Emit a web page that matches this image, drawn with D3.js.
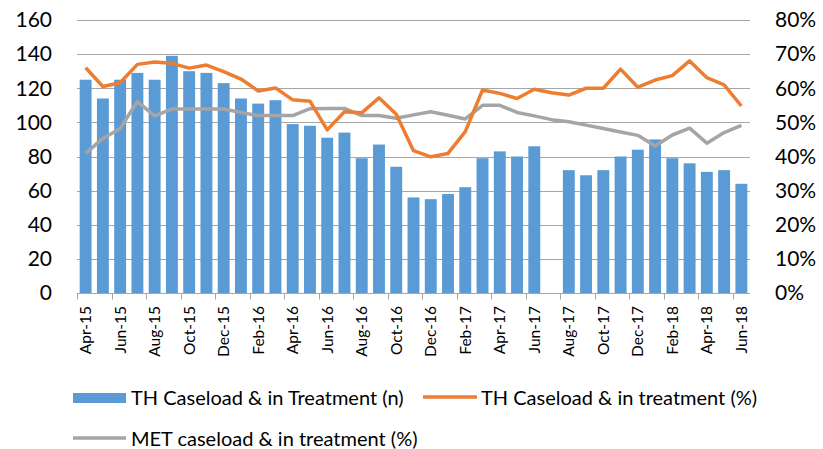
<!DOCTYPE html>
<html>
<head>
<meta charset="utf-8">
<script src="https://cdn.jsdelivr.net/npm/d3@7"></script>
<style>
  body { margin: 0; background: #fff; }
  text { font-family: Lato, "Open Sans", sans-serif; fill: #000; }
</style>
</head>
<body>
<div id="chart"></div>
<script>
// months Apr-15 .. Jun-18
var months = ["Apr-15","May-15","Jun-15","Jul-15","Aug-15","Sep-15","Oct-15","Nov-15","Dec-15",
  "Jan-16","Feb-16","Mar-16","Apr-16","May-16","Jun-16","Jul-16","Aug-16","Sep-16","Oct-16","Nov-16","Dec-16",
  "Jan-17","Feb-17","Mar-17","Apr-17","May-17","Jun-17","Jul-17","Aug-17","Sep-17","Oct-17","Nov-17","Dec-17",
  "Jan-18","Feb-18","Mar-18","Apr-18","May-18","Jun-18"];

// TH caseload & in treatment (n) - Jul-17 missing
var thCount = [125,114,125,129,125,139,130,129,123,114,111,113,99,98,91,94,79,87,74,56,55,58,62,79,83,80,86,
  null,72,69,72,80,84,90,79,76,71,72,64];

// TH caseload & in treatment (%)
var thPct = [66.0,60.5,61.6,67.0,67.7,67.3,65.9,66.8,64.9,62.7,59.2,60.1,56.6,56.2,47.8,53.1,52.8,57.2,52.4,41.7,39.9,
  40.9,47.3,59.5,58.5,57.0,59.7,58.7,58.0,60.0,60.0,65.6,60.3,62.4,63.7,68.0,63.1,61.0,54.8];

// MET caseload & in treatment (%)
var metPct = [40.9,45.3,48.2,56.1,51.9,53.9,53.9,53.9,53.9,52.9,52.0,52.0,52.0,54.0,54.1,54.1,52.0,52.0,51.2,52.2,53.1,
  52.1,51.0,55.0,55.0,52.9,51.9,50.8,50.2,49.2,48.2,47.2,46.2,43.1,46.3,48.3,43.9,47.0,49.1];

var leftTicks = [0,20,40,60,80,100,120,140,160];
var rightTicks = [0,10,20,30,40,50,60,70,80];

var svgWidth = 823, svgHeight = 449;
var margin = {top: 20, right: 73, bottom: 156, left: 77};
var width = svgWidth - margin.left - margin.right;
var height = svgHeight - margin.top - margin.bottom;

var svg = d3.select("#chart").append("svg")
  .attr("width", svgWidth)
  .attr("height", svgHeight);

var chartGroup = svg.append("g")
  .attr("transform", `translate(${margin.left}, ${margin.top})`);

var xScale = d3.scaleBand().domain(months).range([0, width]).paddingInner(0.31).paddingOuter(0.155);
var yLeft = d3.scaleLinear().domain([0, 160]).range([height, 0]);
var yRight = d3.scaleLinear().domain([0, 80]).range([height, 0]);
var step = width / months.length;
var cx = m => xScale(m) + xScale.bandwidth() / 2;

// gridlines
chartGroup.selectAll(".grid").data(leftTicks).enter().append("line")
  .attr("x1", 0).attr("x2", width)
  .attr("y1", d => Math.round(yLeft(d)) + 0.5).attr("y2", d => Math.round(yLeft(d)) + 0.5)
  .attr("stroke", "#a6a6a6").attr("stroke-width", 1);

// bars
chartGroup.selectAll("rect.bar").data(months.map((m, i) => ({m: m, v: thCount[i]})).filter(d => d.v != null))
  .enter().append("rect")
  .attr("x", d => xScale(d.m))
  .attr("y", d => yLeft(d.v))
  .attr("width", xScale.bandwidth())
  .attr("height", d => height - yLeft(d.v))
  .attr("fill", "#5b9bd5");

// lines
var lineTh = d3.line().x((d, i) => cx(months[i])).y(d => yRight(d));
chartGroup.append("path").datum(metPct)
  .attr("d", lineTh).attr("fill", "none")
  .attr("stroke", "#a5a5a5").attr("stroke-width", 3.5).attr("stroke-linejoin", "round");
chartGroup.append("path").datum(thPct)
  .attr("d", lineTh).attr("fill", "none")
  .attr("stroke", "#ed7d31").attr("stroke-width", 3.5).attr("stroke-linejoin", "round");

// x axis line + ticks every 2 months
var axisY = Math.round(height) + 0.5;
chartGroup.append("line").attr("x1", 0).attr("x2", width).attr("y1", axisY).attr("y2", axisY)
  .attr("stroke", "#a6a6a6");
chartGroup.selectAll(".tick").data(d3.range(0, months.length + 1, 2)).enter().append("line")
  .attr("x1", d => Math.round(d * step) + 0.5).attr("x2", d => Math.round(d * step) + 0.5)
  .attr("y1", axisY).attr("y2", axisY + 6)
  .attr("stroke", "#a6a6a6");

// x labels rotated
chartGroup.selectAll(".xlab").data(months.filter((m, i) => i % 2 === 0)).enter().append("text")
  .attr("transform", d => `translate(${cx(d)}, ${height + 13}) rotate(-90)`)
  .attr("text-anchor", "end").attr("dy", "0.35em")
  .style("font-size", "15.5px")
  .text(d => d);

// left labels
chartGroup.selectAll(".ylab").data(leftTicks).enter().append("text")
  .attr("x", -25).attr("y", d => yLeft(d)).attr("dy", "0.35em")
  .attr("text-anchor", "end").style("font-size", "21px")
  .text(d => d);

// right labels
chartGroup.selectAll(".rlab").data(rightTicks).enter().append("text")
  .attr("x", width + 25).attr("y", d => yRight(d)).attr("dy", "0.35em")
  .attr("text-anchor", "start").style("font-size", "21px")
  .text(d => d + "%");

// legend
var legend = svg.append("g");
legend.append("rect").attr("x", 73).attr("y", 393).attr("width", 53).attr("height", 10).attr("fill", "#5b9bd5");
legend.append("text").attr("x", 131).attr("y", 398).attr("dy", "0.35em").style("font-size", "20px")
  .text("TH Caseload & in Treatment (n)");
legend.append("line").attr("x1", 423).attr("x2", 477).attr("y1", 397).attr("y2", 397)
  .attr("stroke", "#ed7d31").attr("stroke-width", 3.5);
legend.append("text").attr("x", 481).attr("y", 398).attr("dy", "0.35em").style("font-size", "20px")
  .text("TH Caseload & in treatment (%)");
legend.append("line").attr("x1", 73).attr("x2", 126).attr("y1", 438).attr("y2", 438)
  .attr("stroke", "#a5a5a5").attr("stroke-width", 3.5);
legend.append("text").attr("x", 131).attr("y", 439).attr("dy", "0.35em").style("font-size", "20px")
  .text("MET caseload & in treatment (%)");
</script>
</body>
</html>
